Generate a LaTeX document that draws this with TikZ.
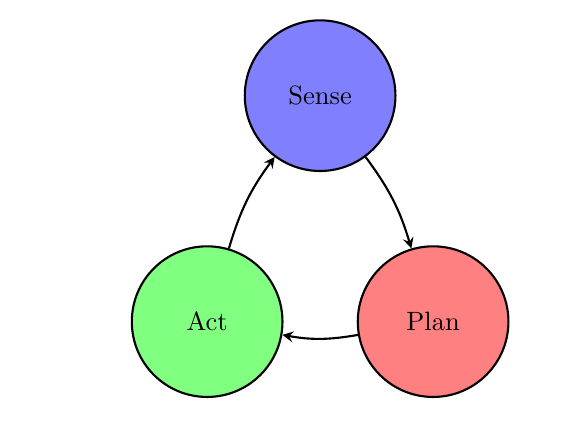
\documentclass[tikz,border=0pt]{standalone}
\usetikzlibrary{arrows}

\begin{document}
\begin{tikzpicture}
  \useasboundingbox (-2.75,-1.41) rectangle (4.99,4.27);
  \tikzset{stage/.style={draw,thick,circle,minimum size=2cm}}

  \node[stage,fill=green!50] (act) at (0,0) {Act};
  \node[stage,fill=red!50] (plan) at (3,0) {Plan};
  \node[stage,fill=blue!50] (sense) at (1.5,3) {Sense};

  \draw[thick,-stealth] (sense) to[bend left=10] (plan);
  \draw[thick,-stealth] (plan) to[bend left=10] (act);
  \draw[thick,-stealth] (act) to[bend left=10] (sense);
\end{tikzpicture}
\end{document}
